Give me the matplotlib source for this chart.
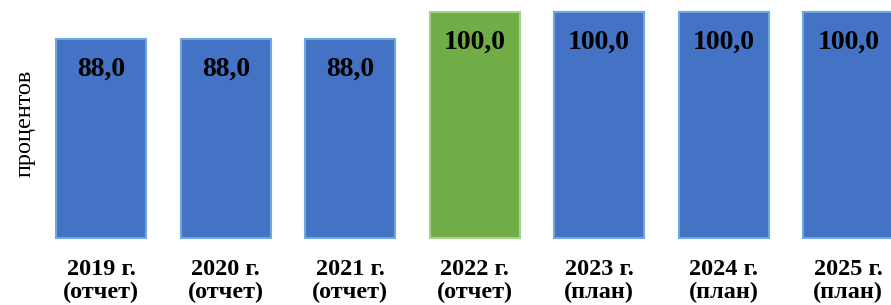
import matplotlib
matplotlib.use("Agg")
import matplotlib.pyplot as plt

# данные
years = ["2019 г.", "2020 г.", "2021 г.", "2022 г.", "2023 г.", "2024 г.", "2025 г."]
kinds = ["(отчет)", "(отчет)", "(отчет)", "(отчет)", "(план)", "(план)", "(план)"]
values = [88.0, 88.0, 88.0, 100.0, 100.0, 100.0, 100.0]
highlight = [False, False, False, True, False, False, False]

plt.rcParams["font.family"] = ["Liberation Serif", "DejaVu Serif"]

fig = plt.figure(figsize=(8.91, 3.05), dpi=100)
ax = fig.add_axes([39 / 891, 67 / 305, 871.5 / 891, 226 / 305])

face = ["#70AD47" if h else "#4472C4" for h in highlight]
edge = ["#A9D18E" if h else "#6FA8DC" for h in highlight]
x = list(range(len(values)))
bars = ax.bar(x, values, width=0.72, color=face, edgecolor=edge, linewidth=1.5,
              clip_on=False)

for xi, v in zip(x, values):
    ax.text(xi, v - 13.5, f"{v:.1f}".replace(".", ","), ha="center", va="center",
            fontsize=20, fontweight="bold", color="black")

ax.set_xlim(-0.5, len(values) - 0.5)
ax.set_ylim(0, 100)
ax.set_xticks(x)
ax.set_xticklabels([f"{y}\n{k}" for y, k in zip(years, kinds)],
                   fontsize=17.5, fontweight="bold", linespacing=1.15)
ax.tick_params(axis="x", length=0, pad=15)
ax.set_yticks([])
for s in ax.spines.values():
    s.set_visible(False)

fig.text(25 / 891, 1 - 123 / 305, "процентов", rotation=90, ha="center",
         va="center", fontsize=17.5)

fig.savefig("out.png", dpi=100)
